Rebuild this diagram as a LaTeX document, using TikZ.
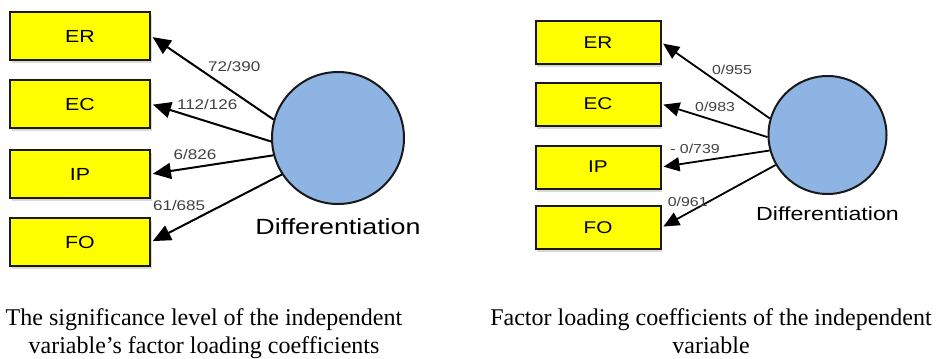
\documentclass[tikz,border=0pt]{standalone}
\usepackage{fontspec}
\setmainfont{Liberation Serif}
\newfontfamily\diagfont[FakeStretch=1.22]{Liberation Sans}
\usetikzlibrary{arrows.meta, shadows, positioning}
\definecolor{boxyellow}{RGB}{255,255,0}
\definecolor{latentblue}{RGB}{141,180,226}
\definecolor{labelgray}{RGB}{65,65,65}

\begin{document}
\begin{tikzpicture}[x=1pt, y=-1pt,
        %Styles
        Box/.style={
            draw=black!90, line width=2pt, fill=boxyellow,
            minimum width=140pt, minimum height=48pt,
            font=\diagfont\fontsize{17.5}{19}\selectfont,
            drop shadow={shadow xshift=1.5pt, shadow yshift=-3pt, opacity=0.3}
        },
        SmallBox/.style={
            Box, minimum width=125pt, minimum height=43pt,
            font=\diagfont\fontsize{17}{19}\selectfont
        },
        Latent/.style={
            circle, draw=black!90, line width=2pt, fill=latentblue,
            inner sep=0pt
        },
        Title/.style={inner sep=1pt, font=\diagfont\fontsize{22}{24}\selectfont},
        Link/.style={line width=2pt, -{Triangle[length=18pt,width=16pt]}, shorten >=2pt},
        Val/.style={inner sep=1pt, text=labelgray, font=\diagfont\fontsize{14}{16}\selectfont},
        Caption/.style={align=center, anchor=base, inner sep=0pt,
            font=\fontsize{24}{28}\selectfont}
    ]
\useasboundingbox (0,0) rectangle (938,359);

%left panel: significance levels
\foreach \name/\y in {ER/36, EC/104, IP/174, FO/242}
    \node[Box] (l\name) at (80,\y) {\name};

\node[Latent, minimum size=132pt] (lD) at (338,138) {};
\node[Title, below=12pt of lD] (lDt) {Differentiation};

\draw[Link] (lD.164) -- (lER.east) node[Val, pos=0.55, anchor=south west]{72/390};
\draw[Link] (lD.183) -- (lEC.east) node[Val, pos=0.8, anchor=south west]{112/126};
\draw[Link] (lD.195) -- (lIP.east) node[Val, pos=0.64, anchor=south, yshift=6pt]{6/826};
\draw[Link] (lD.213) -- (lFO.east) node[Val, pos=0.57, anchor=south east]{61/685};

%right panel: factor loadings
\begin{scope}[Link/.append style={line width=1.8pt, -{Triangle[length=16pt,width=14pt]}}]
\foreach \name/\y in {ER/42.5, EC/104, IP/167, FO/227.5}
    \node[SmallBox] (r\name) at (598,\y) {\name};

\node[Latent, minimum size=118pt] (rD) at (827.5,135) {};
\node[Title, below=11pt of rD, font=\diagfont\fontsize{19}{22}\selectfont] (rDt) {Differentiation};

\draw[Link] (rD.164) -- (rER.east) node[Val, pos=0.55, anchor=south west, font=\diagfont\fontsize{13}{15}\selectfont]{0/955};
\draw[Link] (rD.182) -- (rEC.east) node[Val, pos=0.7, anchor=south west, font=\diagfont\fontsize{13}{15}\selectfont]{0/983};
\draw[Link] (rD.195) -- (rIP.east) node[Val, pos=0.69, anchor=south, yshift=6pt, font=\diagfont\fontsize{13}{15}\selectfont]{- 0/739};
\draw[Link] (rD.210) -- (rFO.east) node[Val, pos=0.77, anchor=south, yshift=5pt, font=\diagfont\fontsize{13}{15}\selectfont]{0/961};
\end{scope}

%captions
\node[Caption] (capL) at (204,353) {The significance level of the independent\\variable’s factor loading coefficients};
\node[Caption] (capR) at (711,353) {Factor loading coefficients of the independent\\variable};

\end{tikzpicture}
\end{document}
